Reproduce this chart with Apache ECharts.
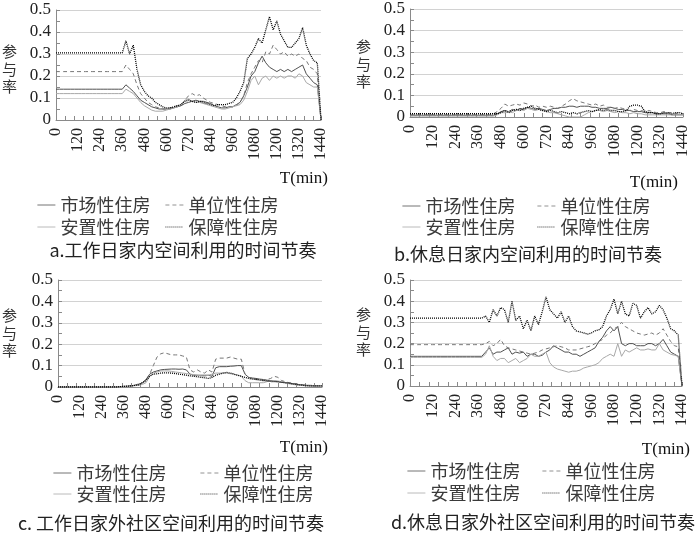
<!DOCTYPE html>
<html><head><meta charset="utf-8">
<script src="https://cdn.jsdelivr.net/npm/echarts@6/dist/echarts.min.js"></script>
<style>html,body{margin:0;padding:0;background:#fff}#c{width:700px;height:533px}</style>
</head><body><div id="c"></div>
<script>
// time axis (minutes), 20-min steps
const T = [
  0,20,40,60,80,100,120,140,160,180,200,220,
  240,260,280,300,320,340,360,380,400,420,440,460,
  480,500,520,540,560,580,600,620,640,660,680,700,
  720,740,760,780,800,820,840,860,880,900,920,940,
  960,980,1000,1020,1040,1060,1080,1100,1120,1140,1160,1180,
  1200,1220,1240,1260,1280,1300,1320,1340,1360,1380,1400,1420,
  1440];
const names = ['市场性住房','单位性住房','安置性住房','保障性住房'];
const yTickLabels = ['0','0.1','0.2','0.3','0.4','0.5'];
const captions = ['a.工作日家内空间利用的时间节奏','b.休息日家内空间利用的时间节奏','c. 工作日家外社区空间利用的时间节奏','d.休息日家外社区空间利用的时间节奏'];

// a. weekday, in-home
const aMarket = [
  .14,.14,.14,.14,.14,.14,.14,.14,.14,.14,.14,.14,
  .14,.14,.14,.14,.14,.14,.14,.16,.145,.13,.11,.09,
  .08,.07,.06,.055,.05,.05,.05,.05,.055,.06,.065,.075,
  .08,.085,.09,.085,.085,.08,.075,.065,.06,.055,.055,.06,
  .06,.07,.08,.11,.15,.20,.22,.26,.29,.26,.24,.23,
  .22,.23,.22,.23,.22,.23,.24,.25,.21,.19,.17,.16,
  0];
const aUnit = [
  .22,.22,.22,.22,.22,.22,.22,.22,.22,.22,.22,.22,
  .22,.22,.22,.22,.22,.22,.22,.25,.23,.21,.16,.12,
  .10,.08,.07,.06,.055,.05,.05,.055,.06,.065,.07,.09,
  .11,.12,.11,.115,.10,.09,.08,.075,.07,.065,.06,.06,
  .06,.065,.08,.11,.17,.21,.24,.27,.26,.31,.30,.34,
  .32,.30,.31,.29,.30,.29,.30,.28,.27,.24,.23,.21,
  0];
const aResettle = [
  .12,.12,.12,.12,.12,.12,.12,.12,.12,.12,.12,.12,
  .12,.12,.12,.12,.12,.12,.12,.14,.13,.12,.10,.08,
  .065,.055,.045,.04,.04,.04,.045,.05,.055,.06,.07,.09,
  .095,.085,.08,.08,.075,.07,.065,.06,.055,.05,.05,.055,
  .06,.065,.07,.09,.13,.18,.20,.16,.19,.20,.18,.20,
  .19,.20,.19,.20,.20,.19,.21,.20,.17,.16,.15,.15,
  0];
const aSecurity = [
  .305,.305,.305,.305,.305,.305,.305,.305,.305,.305,.305,.305,
  .305,.305,.305,.305,.305,.305,.305,.36,.30,.34,.23,.16,
  .13,.11,.10,.08,.07,.06,.055,.055,.06,.065,.07,.085,
  .09,.085,.08,.085,.08,.075,.07,.065,.07,.07,.07,.075,
  .08,.10,.13,.17,.28,.30,.33,.37,.35,.41,.47,.41,
  .45,.39,.36,.33,.33,.35,.37,.42,.34,.30,.27,.26,
  0];

// b. rest day, in-home
const bMarket = [
  .008,.008,.008,.008,.008,.008,.008,.008,.008,.008,.008,.008,
  .008,.008,.008,.008,.008,.008,.008,.008,.008,.008,.008,.015,
  .025,.03,.025,.035,.03,.04,.035,.045,.04,.035,.04,.035,
  .03,.035,.04,.04,.045,.045,.05,.05,.045,.05,.05,.05,
  .045,.045,.04,.04,.04,.045,.04,.035,.035,.03,.03,.025,
  .025,.025,.02,.02,.02,.015,.015,.015,.015,.01,.01,.01,
  .01];
const bUnit = [
  .01,.01,.01,.01,.01,.01,.01,.01,.01,.01,.01,.01,
  .01,.01,.01,.01,.01,.01,.01,.01,.01,.01,.015,.025,
  .04,.06,.05,.055,.06,.055,.065,.06,.05,.055,.045,.05,
  .045,.05,.045,.04,.05,.06,.075,.085,.075,.07,.065,.06,
  .055,.06,.05,.055,.045,.045,.04,.045,.04,.035,.03,.035,
  .03,.03,.025,.03,.025,.02,.02,.025,.02,.02,.015,.02,
  .015];
const bResettle = [
  .004,.004,.004,.004,.004,.004,.004,.004,.004,.004,.004,.004,
  .004,.004,.004,.004,.004,.004,.004,.004,.004,.004,.004,.01,
  .02,.02,.025,.02,.03,.035,.03,.04,.035,.03,.035,.03,
  .025,.02,.02,.015,.01,.005,0,0,0,0,.01,.02,
  .025,.03,.03,.025,.03,.025,.02,.025,.02,.02,.015,.02,
  .015,.015,.01,.01,.01,.01,.01,.01,.01,.01,.01,.01,
  .01];
const bSecurity = [
  .015,.015,.015,.015,.015,.015,.015,.015,.015,.015,.015,.015,
  .015,.015,.015,.015,.015,.015,.015,.015,.015,.015,.015,.015,
  .02,.03,.02,.03,.035,.03,.04,.045,.05,.04,.035,.03,
  .025,.03,.025,.02,.025,.02,.015,.02,.015,.02,.025,.03,
  .025,.03,.035,.03,.035,.03,.03,.025,.025,.03,.05,.055,
  .055,.05,.025,.02,.02,.015,.015,.02,.02,.015,.02,.02,
  .015];

// c. weekday, out-of-home community
const cMarket = [
  0,0,0,0,0,0,0,0,0,0,0,0,
  0,0,0,0,0,.002,.003,.004,.006,.008,.012,.02,
  .035,.06,.07,.075,.08,.082,.083,.084,.084,.083,.084,.08,
  .06,.055,.055,.055,.055,.055,.05,.09,.095,.095,.095,.097,
  .098,.10,.10,.06,.045,.042,.04,.037,.035,.032,.03,.028,
  .025,.022,.02,.018,.015,.012,.01,.008,.008,.006,.005,.005,
  .005];
const cUnit = [
  0,0,0,0,0,0,0,0,0,0,0,0,
  0,0,0,0,0,.002,.003,.004,.006,.008,.015,.02,
  .03,.06,.10,.14,.155,.16,.155,.15,.15,.15,.145,.14,
  .08,.07,.08,.07,.065,.08,.07,.13,.135,.135,.135,.14,
  .135,.13,.13,.06,.045,.04,.035,.035,.03,.035,.04,.05,
  .045,.03,.025,.02,.018,.015,.012,.01,.008,.008,.006,.005,
  .005];
const cResettle = [
  0,0,0,0,0,0,0,0,0,0,0,0,
  0,0,0,0,0,0,.002,.003,.004,.006,.008,.012,
  .02,.05,.065,.07,.075,.075,.075,.073,.07,.068,.065,.063,
  .06,.058,.055,.052,.05,.055,.06,.065,.065,.065,.065,.062,
  .06,.055,.05,.03,.02,.02,.02,.02,.02,.025,.028,.03,
  .028,.025,.02,.015,.012,.01,.008,.006,.005,.004,.004,.004,
  .004];
const cSecurity = [
  0,0,0,0,0,0,0,0,0,0,0,0,
  0,0,0,0,0,.002,.003,.004,.005,.008,.01,.02,
  .03,.05,.06,.062,.065,.066,.066,.065,.063,.06,.058,.055,
  .052,.05,.048,.045,.043,.04,.045,.055,.06,.065,.068,.065,
  .06,.055,.05,.045,.04,.037,.035,.032,.03,.028,.026,.025,
  .024,.022,.02,.018,.015,.012,.01,.008,.006,.005,.005,.005,
  .005];

// d. rest day, out-of-home community
const dMarket = [
  .14,.14,.14,.14,.14,.14,.14,.14,.14,.14,.14,.14,
  .14,.14,.14,.14,.14,.14,.14,.14,.16,.18,.15,.16,
  .16,.17,.18,.15,.16,.155,.16,.14,.15,.15,.14,.145,
  .16,.17,.19,.18,.17,.16,.16,.15,.15,.14,.15,.16,
  .17,.18,.21,.23,.26,.28,.26,.28,.20,.19,.20,.20,
  .19,.19,.19,.20,.20,.19,.20,.22,.19,.16,.15,.14,
  0];
const dUnit = [
  .195,.195,.195,.195,.195,.195,.195,.195,.195,.195,.195,.195,
  .195,.195,.195,.195,.195,.195,.195,.195,.20,.21,.19,.20,
  .22,.19,.18,.175,.17,.165,.16,.155,.15,.155,.16,.17,
  .175,.18,.185,.19,.185,.18,.17,.17,.17,.175,.18,.185,
  .19,.20,.21,.22,.24,.25,.27,.28,.30,.28,.27,.26,
  .25,.245,.24,.245,.25,.24,.25,.27,.24,.21,.19,.185,
  0];
const dResettle = [
  .135,.135,.135,.135,.135,.135,.135,.135,.135,.135,.135,.135,
  .135,.135,.135,.135,.135,.135,.135,.135,.15,.19,.14,.12,
  .13,.13,.11,.12,.13,.11,.12,.13,.15,.14,.14,.15,
  .16,.11,.09,.08,.075,.07,.065,.07,.07,.075,.085,.09,
  .095,.10,.11,.13,.14,.15,.14,.20,.14,.17,.16,.17,
  .18,.17,.17,.175,.17,.17,.20,.17,.16,.15,.145,.14,
  0];
const dSecurity = [
  .32,.32,.32,.32,.32,.32,.32,.32,.32,.32,.32,.32,
  .32,.32,.32,.32,.32,.32,.32,.32,.33,.30,.36,.33,
  .37,.36,.30,.40,.31,.33,.27,.31,.26,.33,.29,.35,
  .42,.36,.34,.32,.35,.30,.33,.28,.26,.255,.25,.245,
  .25,.26,.265,.28,.33,.36,.41,.34,.40,.34,.33,.39,
  .38,.32,.35,.37,.34,.35,.38,.36,.32,.27,.26,.24,
  0];

const panelsData = [
  [aMarket, aUnit, aResettle, aSecurity],
  [bMarket, bUnit, bResettle, bSecurity],
  [cMarket, cUnit, cResettle, cSecurity],
  [dMarket, dUnit, dResettle, dSecurity]
];

// layout
const grids = [
  {left:56, top:10, width:265, height:110},
  {left:410, top:9, width:273, height:108},
  {left:58, top:280, width:264, height:107},
  {left:410, top:280, width:272, height:106}
];
const lineStyles = [
  {color:'#505050', type:'solid', width:1},
  {color:'#777777', type:[4,3], width:1},
  {color:'#a8a8a8', type:'solid', width:1},
  {color:'#000000', type:[1,1], width:1.3}
];
const yNamePos = [[10,69],[364,64],[10,333],[364,332]];
const tminPos = [[328,179],[678,183],[328,448],[690,450]];
const capPos = [[183,250],[528,254],[171,523],[543,522]];
const legendRows = [
  {x:[37,165], y:[205,227]},
  {x:[402,537], y:[206,227]},
  {x:[53,200], y:[473,494]},
  {x:[407,542], y:[471,493]}
];

const serif = 'Liberation Serif';
const cjk = 'Noto Sans CJK SC';
const axisCol = '#8a8a8a';

const xAxis = [], yAxis = [], series = [], legend = [], graphic = [];
grids.forEach((g, i) => {
  xAxis.push({
    gridIndex:i, type:'value', min:0, max:1440, interval:120,
    axisLine:{lineStyle:{color:axisCol}}, axisTick:{show:false}, splitLine:{show:false},
    axisLabel:{rotate:90, margin:8, fontFamily:serif, fontSize:16, color:'#222',
      showMaxLabel:true, showMinLabel:true, formatter: v => String(v)}
  });
  xAxis.push({
    gridIndex:i, type:'value', min:0, max:1440, interval:50, position:'bottom', offset:0,
    axisLine:{show:false}, axisLabel:{show:false}, splitLine:{show:false},
    axisTick:{show:true, inside:true, length:4, lineStyle:{color:axisCol}}
  });
  yAxis.push({
    gridIndex:i, type:'value', min:0, max:0.5, interval:0.1,
    axisLine:{show:true, lineStyle:{color:axisCol}},
    axisTick:{show:true, inside:true, length:4, lineStyle:{color:axisCol}},
    minorTick:{show:true, splitNumber:2, length:4, lineStyle:{color:axisCol}},
    splitLine:{lineStyle:{color:'#d2d2d2', width:1}},
    axisLabel:{margin:5, fontFamily:serif, fontSize:17, color:'#222',
      formatter: v => yTickLabels[Math.round(v*10)]}
  });
  panelsData[i].forEach((vals, k) => {
    series.push({
      type:'line', name:names[k], xAxisIndex:i*2, yAxisIndex:i,
      data:T.map((t, j) => [t, vals[j]]),
      symbol:'none', showSymbol:false, silent:true,
      lineStyle:Object.assign({}, lineStyles[k]),
      itemStyle:{color:lineStyles[k].color},
      emphasis:{disabled:true}, z:2+k
    });
  });
  const lr = legendRows[i];
  [0,1,2,3].forEach(k => {
    legend.push({
      left: lr.x[k % 2], top: lr.y[Math.floor(k/2)] - 10,
      data:[names[k]], padding:0, itemWidth:18, itemHeight:11, itemGap:0,
      selectedMode:false, itemStyle:{opacity:0},
      lineStyle:{width:0.8},
      textStyle:{fontFamily:cjk, fontSize:18, color:'#3a3a3a', lineHeight:20}
    });
  });
  graphic.push({type:'text', left:yNamePos[i][0]-8, top:yNamePos[i][1]-26, silent:true,
    style:{text:'参\n与\n率', font:'15px "Noto Sans CJK SC"', fill:'#333', lineHeight:17.5, align:'left'}});
  graphic.push({type:'text', x:tminPos[i][0], y:tminPos[i][1], silent:true,
    style:{text:'T(min)', font:'17px "Liberation Serif"', fill:'#111', align:'right', verticalAlign:'middle'}});
  graphic.push({type:'text', x:capPos[i][0], y:capPos[i][1], silent:true,
    style:{text:captions[i], font:'18px "Noto Sans CJK SC"', fill:'#222', align:'center', verticalAlign:'middle'}});
});

const chart = echarts.init(document.getElementById('c'), null, {renderer:'canvas'});
chart.setOption({
  animation:false,
  backgroundColor:'#fff',
  grid:grids,
  xAxis, yAxis, series, legend, graphic
});
</script>
</body></html>
